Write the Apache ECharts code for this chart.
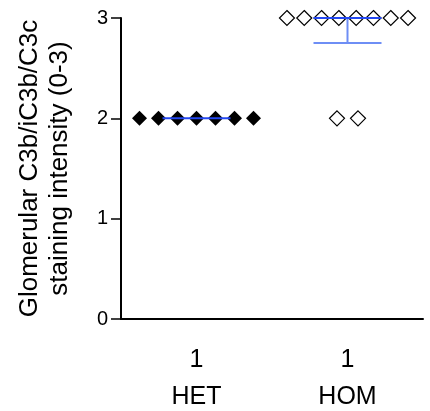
<!DOCTYPE html>
<html>
<head>
<meta charset="utf-8">
<script src="https://cdn.jsdelivr.net/npm/echarts@6/dist/echarts.min.js"></script>
<style>
  html, body { margin: 0; padding: 0; background: #fff; }
  #chart { width: 430px; height: 411px; }
</style>
</head>
<body>
<div id="chart"></div>
<script>
// groups on the x axis, with the count label printed above each name
var categories = ['HET', 'HOM']
var countLabels = ['1', '1']
// staining score of each animal (0-3)
var hetScores = [2, 2, 2, 2, 2, 2, 2]
var homScores = [3, 3, 3, 3, 3, 3, 3, 3, 2, 2]
var yTicks = [0, 1, 2, 3]

var FONT = "'Liberation Sans', Arial, sans-serif"

// prism style percentile, position (n+1)p
function percentile(arr, p) {
  var s = arr.slice().sort(function (a, b) { return a - b })
  var pos = (s.length + 1) * p
  if (pos <= 1) return s[0]
  if (pos >= s.length) return s[s.length - 1]
  var lo = Math.floor(pos)
  return s[lo - 1] + (pos - lo) * (s[lo] - s[lo - 1])
}

// spread equal values side by side (pixels between points in a row)
function rowGap(n) {
  if (n >= 8) return 17.3
  if (n >= 3) return 19
  return 21
}
function spread(scores, catIndex) {
  var rows = {}
  scores.forEach(function (v) { rows[v] = (rows[v] || 0) + 1 })
  var out = []
  Object.keys(rows).forEach(function (k) {
    var n = rows[k]
    var gap = rowGap(n)
    for (var i = 0; i < n; i++) {
      out.push({ value: [catIndex, +k], symbolOffset: [(i - (n - 1) / 2) * gap, 0] })
    }
  })
  return out
}

var groups = [hetScores, homScores]
var summary = groups.map(function (g, i) {
  return [i, percentile(g, 0.5), percentile(g, 0.25), percentile(g, 0.75)]
})

var chart = echarts.init(document.getElementById('chart'))
var halfW = 34

var option = {
  animation: false,
  backgroundColor: '#fff',
  grid: { left: 121, right: 7, top: 18, bottom: 92 },
  xAxis: {
    type: 'category',
    data: categories,
    axisLine: { lineStyle: { color: '#000', width: 2 } },
    axisTick: { alignWithLabel: true, length: 10, lineStyle: { color: '#000', width: 1.5 } },
    axisLabel: {
      margin: 23,
      formatter: function (v, i) {
        return '{n|' + countLabels[i] + '}\n{c|' + v + '}'
      },
      rich: {
        n: { fontFamily: FONT, fontSize: 25, color: '#000', lineHeight: 37 },
        c: { fontFamily: FONT, fontSize: 25, color: '#000', lineHeight: 37 }
      }
    }
  },
  yAxis: {
    type: 'value',
    min: yTicks[0],
    max: yTicks[yTicks.length - 1],
    interval: 1,
    splitLine: { show: false },
    axisLine: { show: true, lineStyle: { color: '#000', width: 2 } },
    axisTick: { show: true, length: 10, lineStyle: { color: '#000', width: 1.5 } },
    axisLabel: { margin: 13, fontFamily: FONT, fontSize: 20, color: '#000' },
    name: 'Glomerular C3b/iC3b/C3c\nstaining intensity (0-3)',
    nameLocation: 'middle',
    nameGap: 46,
    nameTextStyle: { fontFamily: FONT, fontSize: 26, color: '#000', lineHeight: 30 }
  },
  series: [
    {
      type: 'scatter',
      symbol: 'diamond',
      symbolSize: [15, 15],
      itemStyle: { color: '#000', opacity: 1 },
      data: spread(hetScores, 0),
      z: 2
    },
    {
      type: 'scatter',
      symbol: 'diamond',
      symbolSize: [15, 15],
      itemStyle: { color: '#fff', borderColor: '#000', borderWidth: 1.2, opacity: 1 },
      data: spread(homScores, 1),
      z: 2
    },
    {
      type: 'custom',
      z: 5,
      data: summary,
      renderItem: function (params, api) {
        var c = api.value(0)
        var mid = api.coord([c, api.value(1)])
        var q1 = api.coord([c, api.value(2)])
        var q3 = api.coord([c, api.value(3)])
        var kids = []
        var errStyle = { stroke: '#6e8ef5', lineWidth: 2 }
        if (q1[1] !== mid[1]) {
          kids.push({ type: 'line', shape: { x1: mid[0], y1: mid[1], x2: q1[0], y2: q1[1] }, style: errStyle })
          kids.push({ type: 'line', shape: { x1: q1[0] - halfW, y1: q1[1], x2: q1[0] + halfW, y2: q1[1] }, style: errStyle })
        }
        if (q3[1] !== mid[1]) {
          kids.push({ type: 'line', shape: { x1: mid[0], y1: mid[1], x2: q3[0], y2: q3[1] }, style: errStyle })
          kids.push({ type: 'line', shape: { x1: q3[0] - halfW, y1: q3[1], x2: q3[0] + halfW, y2: q3[1] }, style: errStyle })
        }
        kids.push({
          type: 'line',
          shape: { x1: mid[0] - halfW, y1: mid[1], x2: mid[0] + halfW, y2: mid[1] },
          style: { stroke: '#2448f2', lineWidth: 2 }
        })
        return { type: 'group', children: kids }
      }
    }
  ]
}
chart.setOption(option)
</script>
</body>
</html>
